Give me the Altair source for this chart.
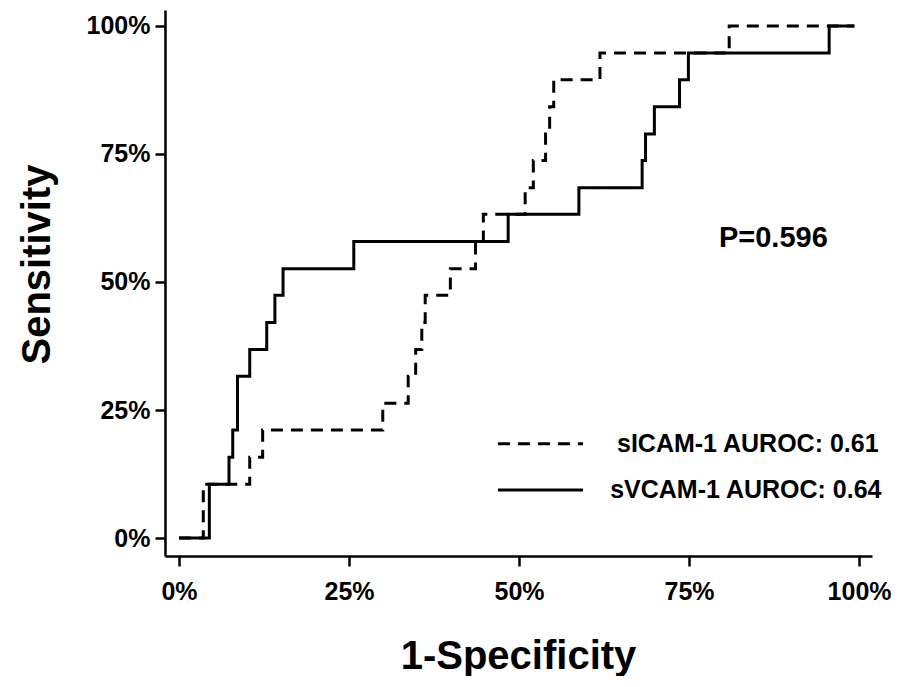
import altair as alt
import pandas as pd

# ROC curve readings (1-Specificity, Sensitivity)
icam_x = [0.0, 0.0357, 0.104, 0.123, 0.2996, 0.337, 0.348, 0.357, 0.362, 0.399, 0.436,
          0.4475, 0.509, 0.521, 0.539, 0.545, 0.551, 0.619, 0.809, 0.993]
icam_y = [0.0, 0.105, 0.158, 0.211, 0.263, 0.316, 0.368, 0.421, 0.474, 0.526, 0.579,
          0.632, 0.684, 0.737, 0.789, 0.842, 0.895, 0.947, 1.0, 1.0]

vcam_x = [0.0, 0.0446, 0.0735, 0.079, 0.086, 0.104, 0.129, 0.141, 0.153, 0.257, 0.484,
          0.588, 0.681, 0.686, 0.699, 0.736, 0.749, 0.956, 0.993]
vcam_y = [0.0, 0.105, 0.158, 0.211, 0.316, 0.368, 0.421, 0.474, 0.526, 0.579, 0.632,
          0.684, 0.737, 0.789, 0.842, 0.895, 0.947, 1.0, 1.0]

series_names = ["sICAM-1 AUROC: 0.61", "sVCAM-1 AUROC: 0.64"]
tick_values = [0, 0.25, 0.5, 0.75, 1.0]

# legend key placement (data units)
legend_x0 = [0.469, 0.469]
legend_x1 = [0.594, 0.594]
legend_y = [0.184, 0.094]
legend_tx = [0.644, 0.634]

p_label = ["P=0.596"]
p_x = [0.874]
p_y = [0.568]

rows = []
for i, (x, y) in enumerate(zip(icam_x, icam_y)):
    rows.append({"fpr": x, "tpr": y, "series": series_names[0], "idx": i})
for i, (x, y) in enumerate(zip(vcam_x, vcam_y)):
    rows.append({"fpr": x, "tpr": y, "series": series_names[1], "idx": i})
df = pd.DataFrame(rows)

leg = pd.DataFrame({"series": series_names, "x0": legend_x0, "x1": legend_x1,
                    "y": legend_y, "tx": legend_tx})
ann = pd.DataFrame({"x": p_x, "y": p_y, "label": p_label})

FONT = "Liberation Sans, Arial, Helvetica, sans-serif"

xscale = alt.Scale(domain=[-0.0206, 1.019], nice=False, zero=False)
yscale = alt.Scale(domain=[-0.035, 1.031], nice=False, zero=False)
dash_scale = alt.Scale(domain=series_names, range=[[12, 8], [1, 0]])

lines = alt.Chart(df).mark_line(
    interpolate="step-after", strokeWidth=3, color="black", strokeCap="butt"
).encode(
    x=alt.X("fpr:Q", scale=xscale,
            axis=alt.Axis(values=tick_values, format=".0%", title="1-Specificity",
                          titleX=353, titleY=112, titleBaseline="alphabetic",
                          titleAlign="center")),
    y=alt.Y("tpr:Q", scale=yscale,
            axis=alt.Axis(values=tick_values, format=".0%", title="Sensitivity",
                          titleX=-128, titleY=254, titleAlign="center",
                          titleBaseline="middle", titleAngle=-90)),
    strokeDash=alt.StrokeDash("series:N", scale=dash_scale, legend=None),
    order="idx:Q",
)

leg_rules = alt.Chart(leg).mark_rule(strokeWidth=3, color="black", strokeCap="butt").encode(
    x=alt.X("x0:Q", scale=xscale),
    x2="x1:Q",
    y=alt.Y("y:Q", scale=yscale),
    strokeDash=alt.StrokeDash("series:N", scale=dash_scale, legend=None),
)

leg_text = alt.Chart(leg).mark_text(
    font=FONT, fontSize=25, fontWeight="bold", color="black",
    align="left", baseline="middle"
).encode(
    x=alt.X("tx:Q", scale=xscale),
    y=alt.Y("y:Q", scale=yscale),
    text="series:N",
)

ptext = alt.Chart(ann).mark_text(
    font=FONT, fontSize=29, fontWeight="bold", color="black",
    align="center", baseline="alphabetic"
).encode(
    x=alt.X("x:Q", scale=xscale),
    y=alt.Y("y:Q", scale=yscale),
    text="label:N",
)

chart = alt.layer(lines, leg_rules, leg_text, ptext).properties(
    width=707, height=546,
    autosize="none",
    padding={"left": 157, "top": 2, "right": 34, "bottom": 120},
).configure_view(stroke=None).configure_axis(
    grid=False,
    domainColor="black", domainWidth=2.5,
    tickColor="black", tickWidth=2.5, tickSize=10,
    labelFont=FONT, labelFontSize=25, labelFontWeight="bold", labelColor="black",
    titleFont=FONT, titleFontSize=40, titleFontWeight="bold", titleColor="black",
).configure_axisX(labelPadding=13).configure_axisY(labelPadding=5)

chart.save("out.html", embed_options={"renderer": "svg", "actions": False})
